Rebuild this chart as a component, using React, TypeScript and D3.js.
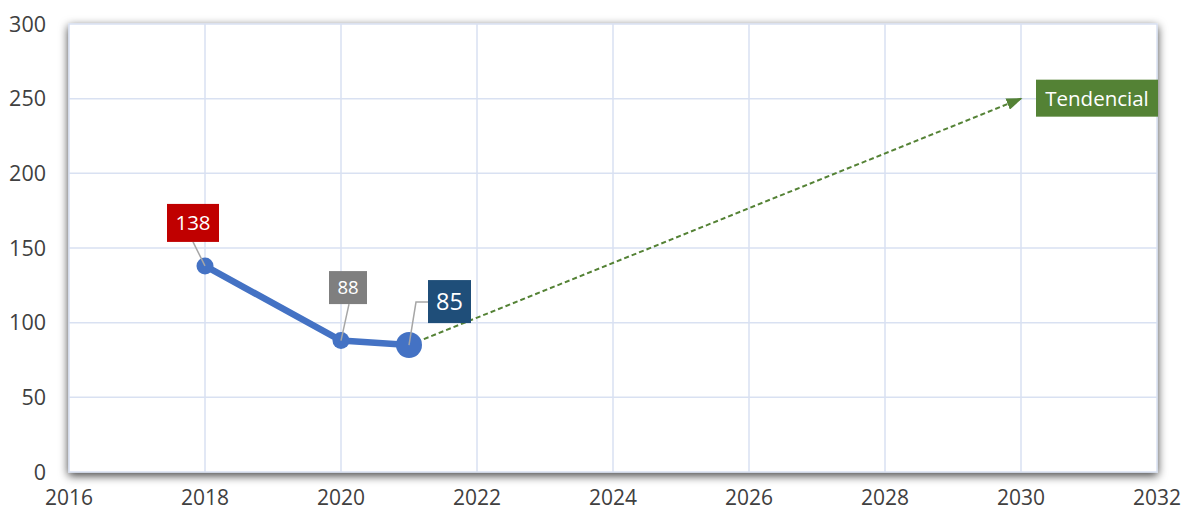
import React from "react";
import * as d3 from "d3";

const years = [2018, 2020, 2021];
const values = [138, 88, 85];
const labelColors = ["#C00000", "#7F7F7F", "#1F4E79"];
const trendStart = { x: 2021, y: 85 };
const trendEnd = { x: 2030, y: 250 };
const trendLabel = "Tendencial";
const xTicks = [2016, 2018, 2020, 2022, 2024, 2026, 2028, 2030, 2032];
const yTicks = [0, 50, 100, 150, 200, 250, 300];

export default function App() {
  const W = 1182, H = 512;
  const left = 69, right = 1157, top = 24, bottom = 472;
  const x = d3.scaleLinear().domain([2016, 2032]).range([left, right]);
  const y = d3.scaleLinear().domain([0, 300]).range([bottom, top]);
  const line = d3.line<number>().x((_, i) => x(years[i])).y((d) => y(d));
  const font = "'Open Sans', 'Noto Sans', sans-serif";

  const labels = [
    { w: 52, h: 38, dx: -38, dy: -62, fs: 20.5 },
    { w: 38, h: 33, dx: -12, dy: -69.5, fs: 18.5 },
    { w: 43, h: 43, dx: 19, dy: -65, fs: 23.5 },
  ];

  return (
    <svg width={W} height={H} style={{ position: "absolute", left: 0, top: 0 }}>
      <defs>
        <filter id="shadow" x="-5%" y="-10%" width="110%" height="125%">
          <feDropShadow dx="0" dy="3" stdDeviation="5" floodColor="#000" floodOpacity="0.75" />
        </filter>
        <marker id="arrow" viewBox="0 0 10 10" refX="9" refY="5" markerWidth="8" markerHeight="6" orient="auto" preserveAspectRatio="none">
          <path d="M0,0 L10,5 L0,10 z" fill="#548235" />
        </marker>
      </defs>
      <rect x={0} y={0} width={W} height={H} fill="#fff" />
      <rect x={left} y={top} width={right - left} height={bottom - top} fill="#fff" stroke="#D9E1F2" strokeWidth={1.5} filter="url(#shadow)" />
      {yTicks.filter((t) => t > 0 && t < 300).map((t) => (
        <line key={"gy" + t} x1={left} x2={right} y1={y(t)} y2={y(t)} stroke="#D9E1F2" strokeWidth={1.5} />
      ))}
      {xTicks.filter((t) => t > 2016 && t < 2032).map((t) => (
        <line key={"gx" + t} x1={x(t)} x2={x(t)} y1={top} y2={bottom} stroke="#D9E1F2" strokeWidth={1.5} />
      ))}
      {yTicks.map((t) => (
        <text key={"ty" + t} x={46} y={y(t)} dy="0.35em" textAnchor="end" fontFamily={font} fontSize={21.5} fill="#404040">{t}</text>
      ))}
      {xTicks.map((t) => (
        <text key={"tx" + t} x={x(t)} y={505} textAnchor="middle" fontFamily={font} fontSize={21} fill="#404040">{t}</text>
      ))}
      <line x1={x(trendStart.x)} y1={y(trendStart.y)} x2={x(trendEnd.x)} y2={y(trendEnd.y)} stroke="#548235" strokeWidth={2} strokeDasharray="5,3" markerEnd="url(#arrow)" />
      <rect x={x(trendEnd.x) + 15} y={y(trendEnd.y) - 19} width={122} height={37} fill="#548235" />
      <text x={x(trendEnd.x) + 76} y={y(trendEnd.y)} dy="0.35em" textAnchor="middle" fontFamily={font} fontSize={20.5} fill="#fff">{trendLabel}</text>
      <path d={line(values) || ""} fill="none" stroke="#4472C4" strokeWidth={6.5} strokeLinejoin="round" />
      {values.map((v, i) => (
        <circle key={"c" + i} cx={x(years[i])} cy={y(v)} r={i === 2 ? 13 : 8.5} fill="#4472C4" />
      ))}
      {values.map((v, i) => {
        const L = labels[i];
        const px = x(years[i]), py = y(v);
        const bx = px + L.dx, by = py + L.dy;
        let pts: string;
        if (i === 0) pts = `${px},${py} ${px - 12},${by + L.h}`;
        else if (i === 1) pts = `${px},${py} ${px + 8},${by + L.h}`;
        else pts = `${px},${py} ${px + 7},${py - 43} ${bx},${py - 43}`;
        return (
          <g key={"l" + i}>
            <polyline points={pts} fill="none" stroke="#A6A6A6" strokeWidth={1.5} />
            <rect x={bx} y={by} width={L.w} height={L.h} fill={labelColors[i]} />
            <text x={bx + L.w / 2} y={by + L.h / 2} dy="0.35em" textAnchor="middle" fontFamily={font} fontSize={L.fs} fill="#fff">{v}</text>
          </g>
        );
      })}
    </svg>
  );
}
